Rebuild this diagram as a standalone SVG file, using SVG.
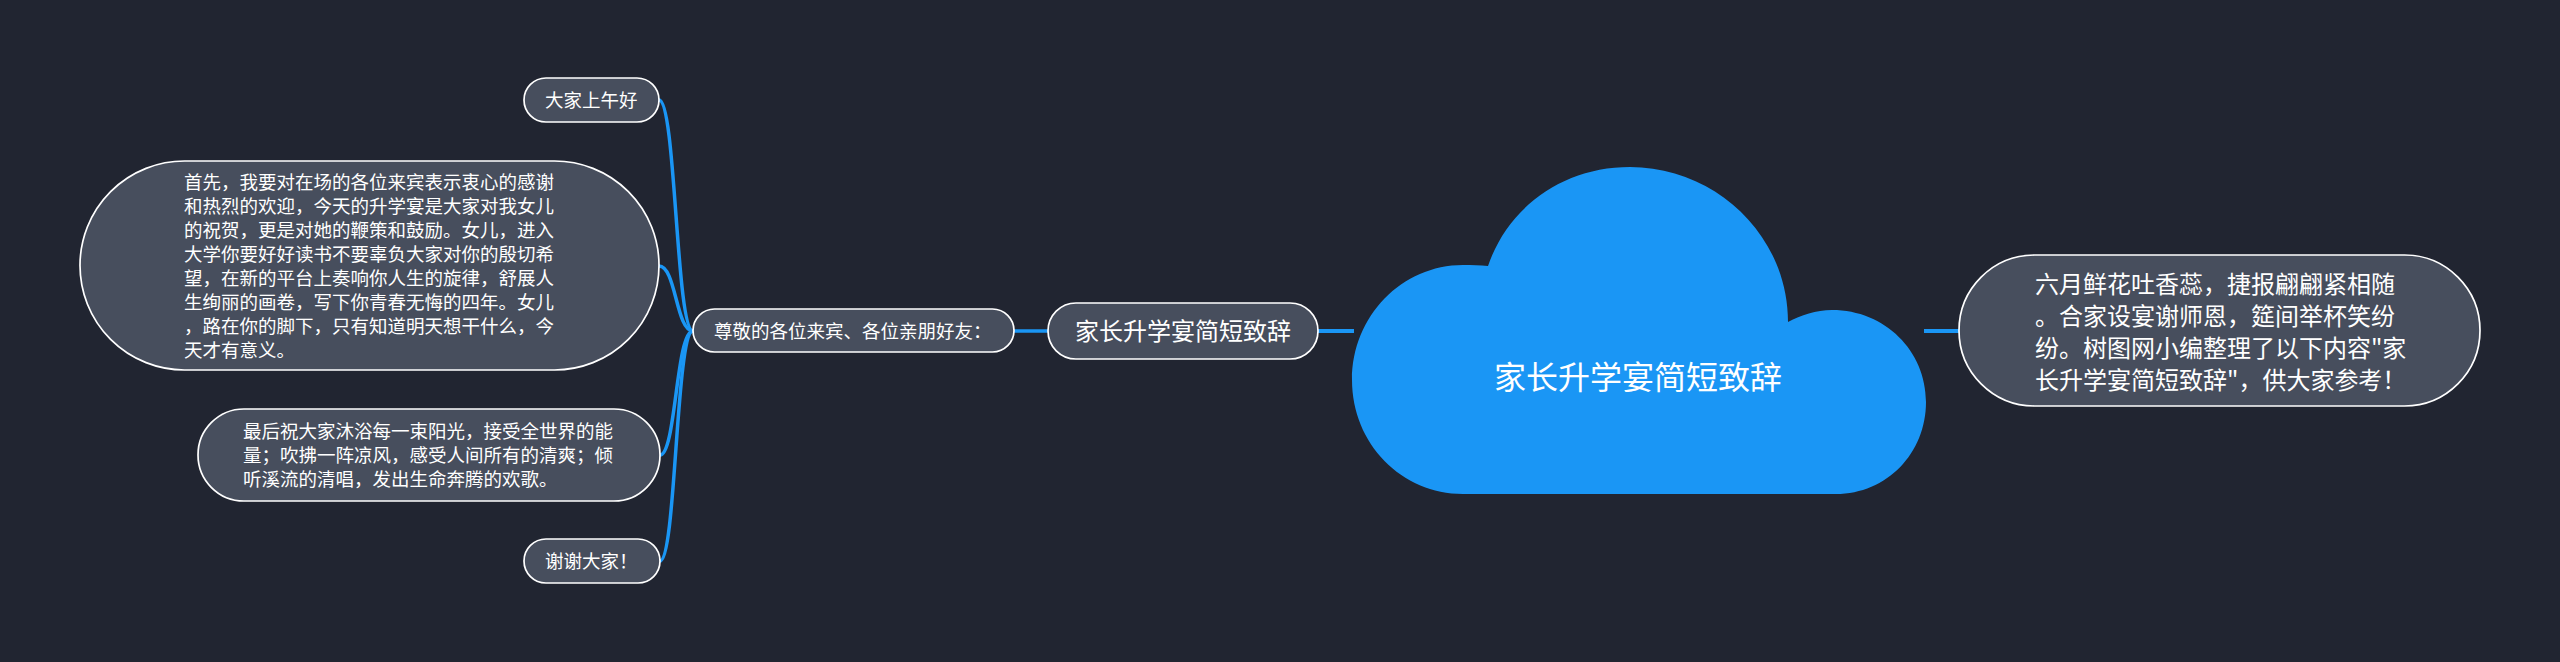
<svg xmlns="http://www.w3.org/2000/svg" width="2560" height="662" viewBox="0 0 2560 662">
<style>
text{font-family:"Noto Sans CJK SC","Liberation Sans",sans-serif;fill:#fff;font-weight:400}
.n{fill:#474e5d;stroke:#fff;stroke-width:1.700}
.c{fill:none;stroke:#1a96f5;stroke-width:3.500}
.t{stroke-width:4}
.s{font-size:18.5px}
.m{font-size:24px}
</style>
<rect width="2560" height="662" fill="#212531"/>
<g id="connectors">
<path class="c t" d="M1318,331H1354"/>
<path class="c t" d="M1924,331H1960"/>
<path class="c" d="M1014,331H1048"/>
<path class="c" d="M659,100C676,100 676,331 693,331"/>
<path class="c" d="M659,266C676,266 676,331 693,331"/>
<path class="c" d="M660,455C676,455 676,331 693,331"/>
<path class="c" d="M660,561C676,561 676,331 693,331"/>
</g>
<g id="root">
<path fill="#1a96f5" d="M1488,266C1508,207 1563,167 1630,167C1715,167 1788,235 1788,322C1801,315 1816,310 1832,310C1885,310 1926,351 1926,402C1926,453 1887,494 1836,494H1463C1402,494 1352,444 1352,380C1352,316 1402,265 1463,265C1472,265 1480,265 1488,266Z"/>
<text x="1638" y="389" text-anchor="middle" font-size="32">家长升学宴简短致辞</text>
</g>
<g id="intro">
<rect class="n" x="1959" y="255" width="521" height="151" rx="75.500"/>
<text class="m" x="2035" y="293">六月鲜花吐香蕊，捷报翩翩紧相随</text>
<text class="m" x="2035" y="325">。合家设宴谢师恩，筵间举杯笑纷</text>
<text class="m" x="2035" y="357">纷。树图网小编整理了以下内容"家</text>
<text class="m" x="2035" y="389">长升学宴简短致辞"，供大家参考！</text>
</g>
<g id="branch">
<rect class="n" x="1048" y="303" width="270" height="56" rx="28"/>
<text class="m" x="1183" y="339.500" text-anchor="middle">家长升学宴简短致辞</text>
</g>
<g id="greeting">
<rect class="n" x="693" y="309" width="321" height="43" rx="21.500"/>
<text class="s" x="714" y="338">尊敬的各位来宾、各位亲朋好友：</text>
</g>
<g id="morning">
<rect class="n" x="524" y="78" width="135" height="44" rx="22"/>
<text class="s" x="545" y="106.500">大家上午好</text>
</g>
<g id="speech">
<rect class="n" x="80" y="161" width="579" height="209" rx="104.500"/>
<text class="s" x="184" y="189">首先，我要对在场的各位来宾表示衷心的感谢</text>
<text class="s" x="184" y="213">和热烈的欢迎，今天的升学宴是大家对我女儿</text>
<text class="s" x="184" y="237">的祝贺，更是对她的鞭策和鼓励。女儿，进入</text>
<text class="s" x="184" y="261">大学你要好好读书不要辜负大家对你的殷切希</text>
<text class="s" x="184" y="285">望，在新的平台上奏响你人生的旋律，舒展人</text>
<text class="s" x="184" y="309">生绚丽的画卷，写下你青春无悔的四年。女儿</text>
<text class="s" x="184" y="333">，路在你的脚下，只有知道明天想干什么，今</text>
<text class="s" x="184" y="357">天才有意义。</text>
</g>
<g id="wish">
<rect class="n" x="198" y="409" width="462" height="92" rx="46"/>
<text class="s" x="243" y="438">最后祝大家沐浴每一束阳光，接受全世界的能</text>
<text class="s" x="243" y="462">量；吹拂一阵凉风，感受人间所有的清爽；倾</text>
<text class="s" x="243" y="486">听溪流的清唱，发出生命奔腾的欢歌。</text>
</g>
<g id="thanks">
<rect class="n" x="524" y="539" width="136" height="44" rx="22"/>
<text class="s" x="545" y="567.500">谢谢大家！</text>
</g>
</svg>
